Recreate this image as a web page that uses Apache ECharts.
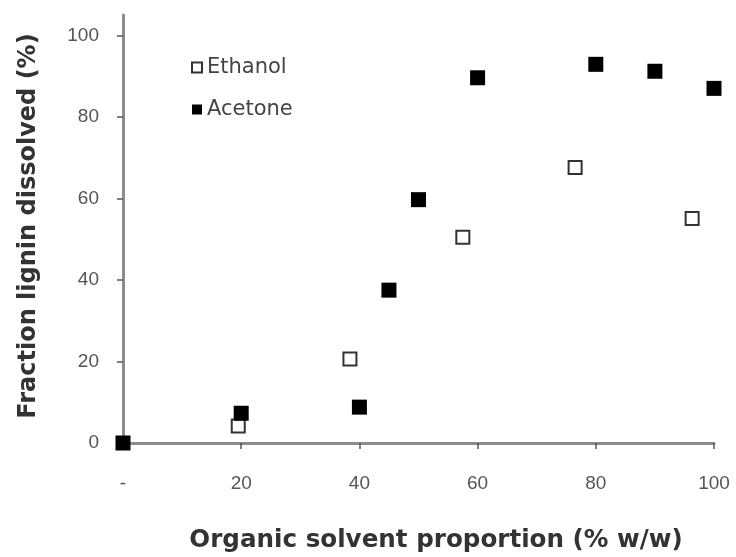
<!DOCTYPE html>
<html>
<head>
<meta charset="utf-8">
<script src="https://cdn.jsdelivr.net/npm/echarts@6/dist/echarts.min.js"></script>
<style>
html,body{margin:0;padding:0;background:#fff;}
#chart{width:736px;height:557px;}
</style>
</head>
<body>
<div id="chart"></div>
<script>
const ethanolX = [19.5, 38.4, 57.5, 76.5, 96.3];
const ethanolY = [4.2, 20.6, 50.5, 67.6, 55.1];
const acetoneX = [0, 20, 40, 45, 50, 60, 80, 90, 100];
const acetoneY = [0, 7.3, 8.8, 37.5, 59.7, 89.6, 92.9, 91.2, 87.0];
const xTicks = [0, 20, 40, 60, 80, 100];
const yTicks = [0, 20, 40, 60, 80, 100];

const pair = (xs, ys) => xs.map((x, i) => [x, ys[i]]);
const font = '"Liberation Sans", Arial, sans-serif';
const wide = '"DejaVu Sans", sans-serif';

const chart = echarts.init(document.getElementById('chart'));
chart.setOption({
  animation: false,
  backgroundColor: '#fff',
  grid: { left: 123, right: 22, top: 15, bottom: 114, containLabel: false, outerBoundsMode: 'none' },
  legend: {
    orient: 'vertical', left: 191, top: 57, itemGap: 21, padding: 0,
    itemWidth: 10, itemHeight: 10,
    textStyle: { fontFamily: wide, fontSize: 21, color: '#444' },
    data: ['Ethanol', 'Acetone']
  },
  xAxis: {
    type: 'value', min: 0, max: 100, interval: 20,
    name: 'Organic solvent proportion (% w/w)',
    nameLocation: 'middle', nameGap: 85,
    nameTextStyle: { fontFamily: wide, fontSize: 24.6, fontWeight: 'bold', color: '#333',
      padding: [0, 0, 0, 35] },
    axisLine: { show: true, lineStyle: { color: '#8c8c8c', width: 3 } },
    axisTick: { show: true, length: 6, customValues: xTicks, lineStyle: { color: '#555', width: 1.5 } },
    axisLabel: { fontFamily: font, fontSize: 19, color: '#555', margin: 31, customValues: xTicks,
      formatter: v => v === 0 ? '-' : String(v) },
    splitLine: { show: false }
  },
  yAxis: {
    type: 'value', min: 0, max: 105, interval: 20,
    name: 'Fraction lignin dissolved (%)',
    nameLocation: 'middle', nameGap: 82, nameRotate: 90,
    nameTextStyle: { fontFamily: wide, fontSize: 24, fontWeight: 'bold', color: '#333',
      padding: [0, 0, 0, 6] },
    axisLine: { show: true, lineStyle: { color: '#8c8c8c', width: 3 } },
    axisTick: { show: true, length: 6, customValues: yTicks, lineStyle: { color: '#555', width: 1.5 } },
    axisLabel: { fontFamily: font, fontSize: 19, color: '#555', margin: 24, customValues: yTicks },
    splitLine: { show: false }
  },
  series: [
    {
      name: 'Ethanol', type: 'scatter', symbol: 'rect', symbolSize: 13,
      itemStyle: { color: '#fff', borderColor: '#333', borderWidth: 2, opacity: 1 },
      data: pair(ethanolX, ethanolY), z: 3
    },
    {
      name: 'Acetone', type: 'scatter', symbol: 'rect', symbolSize: 15,
      itemStyle: { color: '#000', opacity: 1 },
      data: pair(acetoneX, acetoneY), z: 4
    }
  ]
});
</script>
</body>
</html>
